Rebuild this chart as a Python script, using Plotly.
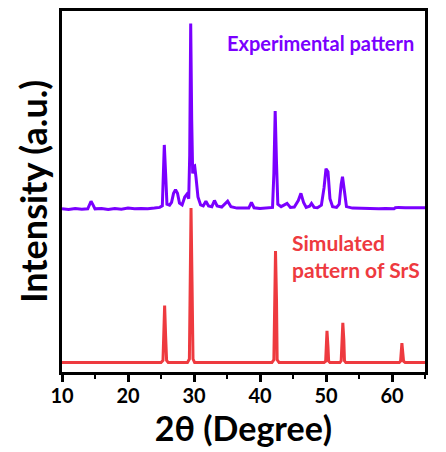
import plotly.graph_objects as go

# Experimental pattern (2theta, intensity in arbitrary offset units)
exp_x = [10, 11, 12, 13, 13.9, 14.2, 14.4, 14.7, 15.0, 16, 17, 18, 19, 20, 21, 22, 23, 24, 24.8, 25.2,
         25.4, 25.5, 25.7, 25.9, 26.3, 26.6, 26.9, 27.2, 27.5, 27.8, 28.2, 28.6, 28.9, 29.2, 29.35, 29.5,
         29.65, 29.8, 30.0, 30.1, 30.3, 30.6, 31.0, 31.4, 31.8, 32.2, 32.7, 33.1, 33.5, 34.2, 35.1, 35.6,
         36.5, 37.5, 38.3, 38.7, 39.1, 40, 41, 41.9, 42.1, 42.3, 42.5, 42.7, 43.2, 44.1, 44.6, 45.2, 45.8,
         46.2, 46.6, 47.0, 47.5, 47.8, 48.2, 48.7, 49.3, 49.7, 50.0, 50.3, 50.6, 51.0, 51.6, 52.0, 52.3,
         52.5, 52.8, 53.1, 54, 55, 56, 57, 58, 59, 60.3, 60.5, 61, 62, 63, 64, 65]
exp_y = [45.2, 45.0, 45.3, 45.1, 45.2, 46.8, 47.3, 46.3, 45.2, 45.3, 45.0, 45.3, 45.1, 45.4, 45.2, 45.3, 45.2, 45.4, 45.6, 46.0,
         55.0, 62.9, 55.0, 46.5, 46.2, 47.0, 49.5, 50.5, 49.5, 46.8, 46.3, 48.5, 49.2, 48.0, 60.0, 96.5,
         70.0, 55.0, 57.0, 57.1, 54.0, 48.5, 46.3, 46.0, 47.3, 46.0, 45.8, 47.5, 46.0, 45.7, 47.3, 45.8,
         45.4, 45.5, 45.4, 47.0, 45.5, 45.3, 45.4, 45.6, 55.0, 72.3, 58.0, 46.5, 45.8, 46.7, 45.6, 45.7, 47.5,
         49.5, 47.0, 45.6, 45.9, 46.7, 45.6, 45.5, 46.2, 51.0, 56.3, 55.5, 48.0, 45.8, 45.6, 46.5, 52.0,
         54.1, 50.0, 45.8, 45.4, 45.3, 45.2, 45.3, 45.2, 45.3, 45.2, 45.5, 45.6, 45.5, 45.6, 45.5, 45.5]

# Simulated SrS pattern
sim_x = [10, 25.0, 25.3, 25.45, 25.55, 25.7, 25.85, 26.1, 29.0, 29.3, 29.45, 29.55, 29.7, 29.85, 30.1,
         41.8, 42.1, 42.25, 42.35, 42.5, 42.6, 42.9, 49.7, 49.95, 50.05, 50.15, 50.3, 50.4, 50.6,
         52.1, 52.3, 52.45, 52.55, 52.7, 52.8, 53.0, 61.1, 61.3, 61.4, 61.5, 61.65, 61.75, 62.0, 65]
sim_y = [2.6, 2.6, 3.2, 10, 18.4, 10, 3.2, 2.6, 2.6, 3.6, 25, 45.4, 25, 3.6, 2.6,
         2.6, 3.4, 20, 33.5, 20, 3.4, 2.6, 2.6, 3.0, 8, 11.4, 7, 3.0, 2.6,
         2.6, 3.1, 9, 13.6, 9, 3.1, 2.6, 2.6, 3.0, 6, 8.0, 5, 3.0, 2.6, 2.6]

x_ticks = [10, 20, 30, 40, 50, 60]

PURPLE = "#7A00FF"
RED = "#EE3A3F"
FONT = "Lato"

fig = go.Figure()
fig.add_trace(go.Scatter(x=sim_x, y=sim_y, mode="lines",
                         line=dict(color=RED, width=3), showlegend=False))
fig.add_trace(go.Scatter(x=exp_x, y=exp_y, mode="lines",
                         line=dict(color=PURPLE, width=3), showlegend=False))

fig.add_annotation(x=49.2, y=91.2, xref="x", yref="y", text="<b>Experimental pattern</b>",
                   showarrow=False, font=dict(family=FONT, size=20, color=PURPLE))
fig.add_annotation(x=44.6, y=32, xref="x", yref="y", text="<b>Simulated<br>pattern of SrS</b>",
                   showarrow=False, xanchor="left", align="left",
                   font=dict(family=FONT, size=21, color=RED))

fig.update_layout(
    width=446, height=452,
    margin=dict(l=62, r=21, t=8, b=80),
    paper_bgcolor="white", plot_bgcolor="white",
    font=dict(family=FONT, color="black"),
)
fig.update_xaxes(range=[10, 65], tickvals=x_ticks, ticktext=[str(v) for v in x_ticks],
                 ticks="outside", ticklen=7, tickwidth=2.5, tickcolor="black",
                 minor=dict(dtick=5, tick0=10, ticks="outside", ticklen=4, tickwidth=2, tickcolor="black"),
                 showline=True, linewidth=2.5, linecolor="black", mirror=True,
                 showgrid=False, zeroline=False, ticklabelstandoff=-3,
                 tickfont=dict(family=FONT, size=20, color="black", weight="bold"),
                 title=dict(text="2θ (Degree)", standoff=8,
                            font=dict(family=FONT, size=34, color="black", weight="bold")))
fig.update_yaxes(range=[0, 100], showticklabels=False, ticks="",
                 showline=True, linewidth=2.5, linecolor="black", mirror=True,
                 showgrid=False, zeroline=False,
                 title=dict(text="Intensity (a.u.)", standoff=1,
                            font=dict(family=FONT, size=36, color="black", weight="bold")))

fig.write_html("out.html")
